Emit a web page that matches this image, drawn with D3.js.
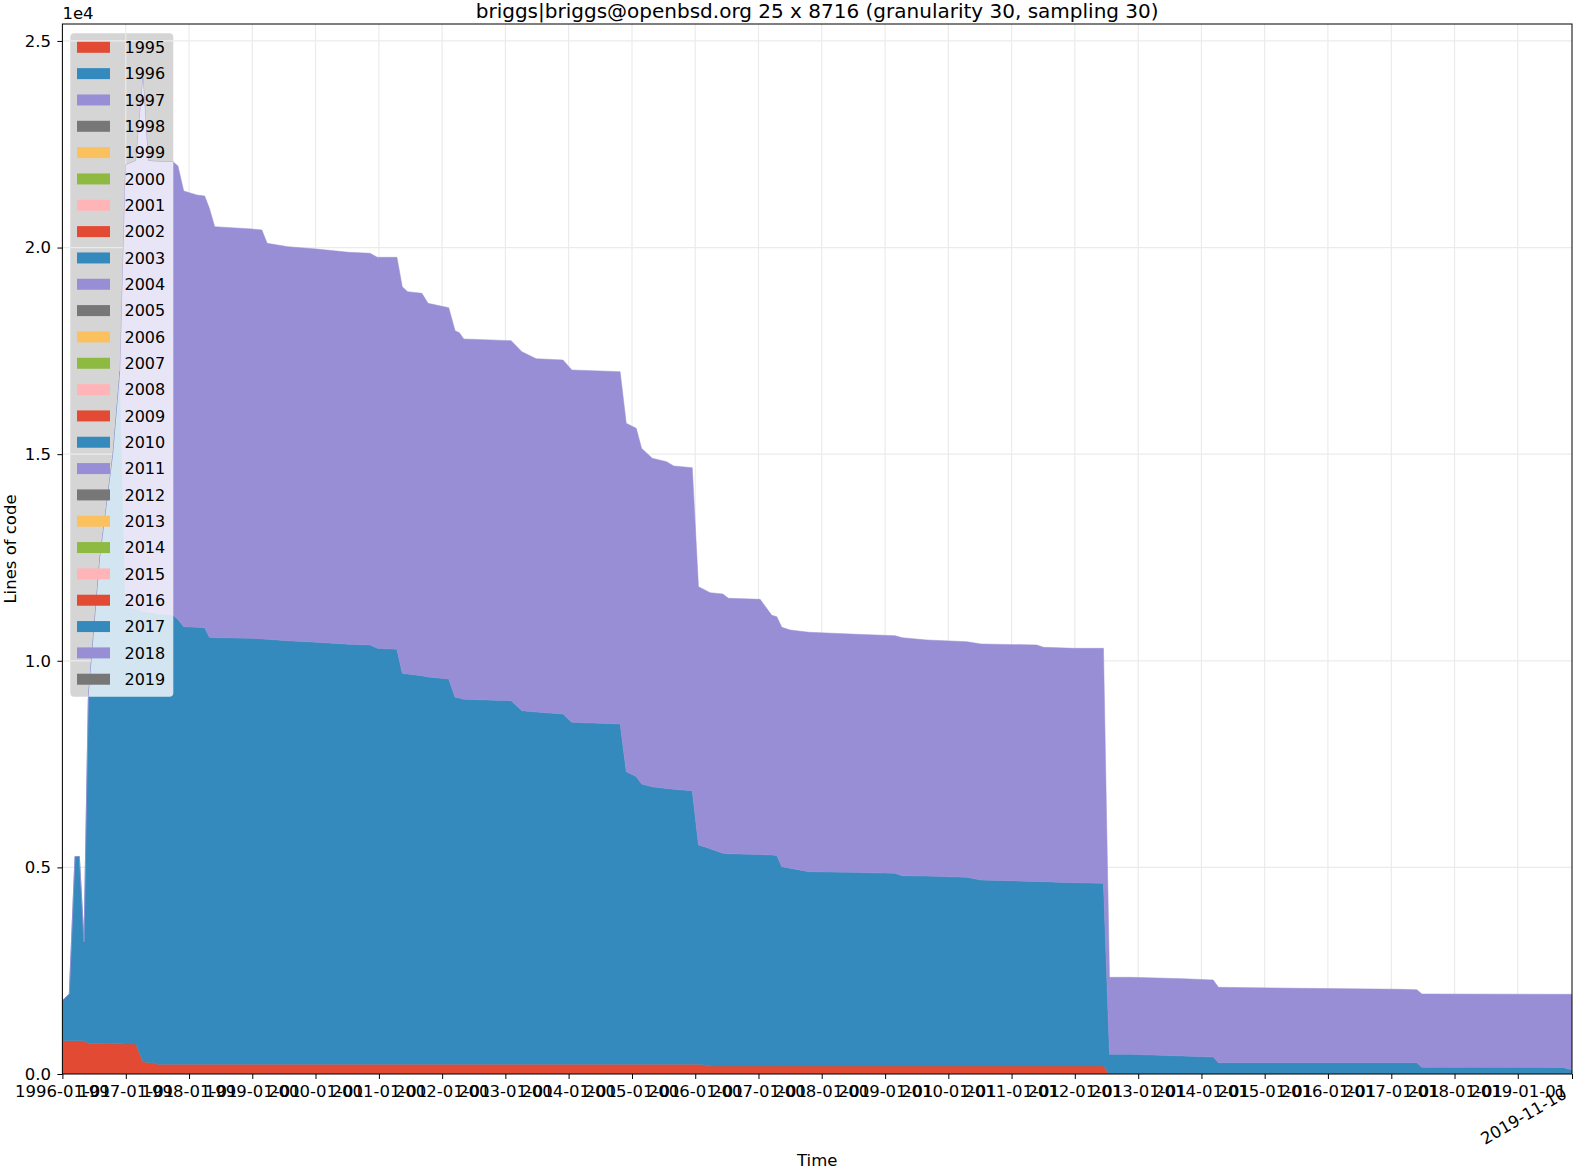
<!DOCTYPE html>
<html>
<head>
<meta charset="utf-8">
<script src="https://cdn.jsdelivr.net/npm/d3@7"></script>
<style>
body { margin: 0; background: #fff; }
text { font-family: "DejaVu Sans", sans-serif; fill: #000; }
</style>
</head>
<body>
<svg id="chart" width="1574" height="1167"></svg>
<script>
// ---- datos ----
const years = ["1995", "1996", "1997", "1998", "1999", "2000", "2001", "2002", "2003", "2004",
    "2005", "2006", "2007", "2008", "2009", "2010", "2011", "2012", "2013", "2014",
    "2015", "2016", "2017", "2018", "2019"];

// fechas de muestreo (anio decimal)
const dates = [1996.000, 1996.109, 1996.199, 1996.267, 1996.341, 1996.409, 1996.594, 1996.800, 1996.910, 1996.997,
    1997.159, 1997.272, 1997.353, 1997.441, 1997.497, 1997.746, 1997.825, 1997.916, 1998.124, 1998.247,
    1998.322, 1998.406, 1998.998, 1999.152, 1999.235, 1999.564, 2000.015, 2000.523, 2000.862, 2000.974,
    2001.285, 2001.369, 2001.454, 2001.680, 2001.777, 2002.104, 2002.205, 2002.273, 2002.341, 2003.092,
    2003.261, 2003.487, 2003.911, 2004.051, 2004.813, 2004.909, 2005.067, 2005.151, 2005.320, 2005.546,
    2005.660, 2005.953, 2006.051, 2006.145, 2006.235, 2006.436, 2006.525, 2007.026, 2007.211, 2007.290,
    2007.369, 2007.500, 2007.797, 2008.448, 2009.158, 2009.270, 2009.660, 2010.293, 2010.519, 2011.399,
    2011.503, 2011.977, 2012.452, 2012.547, 2012.874, 2013.712, 2014.186, 2014.269, 2015.561, 2017.141,
    2017.405, 2017.484, 2019.717, 2019.859];

const lines1995 = [806, 806, 806, 806, 806, 743, 740, 735, 730, 728,
    726, 298, 280, 273, 235, 235, 235, 235, 235, 235,
    235, 235, 235, 235, 235, 235, 235, 235, 235, 235,
    235, 235, 235, 235, 235, 235, 235, 235, 235, 235,
    235, 235, 235, 235, 235, 235, 235, 235, 235, 235,
    235, 235, 235, 215, 194, 194, 194, 194, 194, 194,
    194, 194, 194, 194, 194, 194, 194, 194, 194, 194,
    194, 194, 194, 0, 0, 0, 0, 0, 0, 0,
    0, 0, 0, 0];

const lines1996 = [973, 1130, 4458, 4458, 2388, 8334, 11760, 14265, 16270, 10572,
    10524, 10902, 10900, 10887, 10905, 10873, 10765, 10590, 10575, 10565,
    10333, 10325, 10309, 10295, 10285, 10251, 10215, 10165, 10147, 10067,
    10043, 9462, 9445, 9405, 9375, 9324, 8881, 8865, 8833, 8799,
    8557, 8525, 8477, 8276, 8235, 7081, 6965, 6783, 6715, 6675,
    6655, 6621, 5307, 5285, 5256, 5147, 5136, 5116, 5106, 5096,
    4823, 4786, 4702, 4686, 4663, 4605, 4596, 4566, 4501, 4466,
    4460, 4436, 4421, 477, 477, 436, 411, 273, 273, 273,
    273, 162, 160, 97];

const lines1997 = [0, 0, 0, 0, 0, 0, 0, 0, 0, 10700,
    10850, 12900, 10920, 10930, 10945, 10970, 10974, 10544, 10462, 10448,
    10382, 9945, 9905, 9895, 9583, 9535, 9515, 9485, 9479, 9462,
    9486, 9356, 9252, 9252, 9040, 8986, 8872, 8840, 8719, 8712,
    8688, 8550, 8567, 8526, 8526, 8431, 8426, 8124, 7950, 7908,
    7824, 7816, 6251, 6220, 6198, 6275, 6182, 6177, 5800, 5777,
    5793, 5765, 5794, 5768, 5750, 5760, 5713, 5702, 5711, 5722,
    5672, 5672, 5687, 1863, 1863, 1870, 1864, 1825, 1801, 1777,
    1767, 1774, 1769, 1832];

const tickYears = [1996, 1997, 1998, 1999, 2000, 2001, 2002, 2003, 2004, 2005, 2006, 2007,
    2008, 2009, 2010, 2011, 2012, 2013, 2014, 2015, 2016, 2017, 2018, 2019];
const yTicks = [0, 5000, 10000, 15000, 20000, 25000];
const endDate = "2019-11-10";

const palette = ["#E24A33", "#348ABD", "#988ED5", "#777777", "#FBC15E", "#8EBA42", "#FFB5B8"];
const title = "briggs|briggs@openbsd.org 25 x 8716 (granularity 30, sampling 30)";

// ---- utilidades ----
function toDate(dec) {
    const Y = Math.floor(dec);
    const a = new Date(Y, 0, 1), b = new Date(Y + 1, 0, 1);
    return new Date(+a + (dec - Y) * (b - a));
}

const svg = d3.select("#chart");
const axL = 62.4, axR = 1572, axT = 24, axB = 1074;
const fs = "16.5px";

const x = d3.scaleTime()
    .domain([new Date(1996, 0, 1), d3.timeParse("%Y-%m-%d")(endDate)])
    .range([axL, axR]);
const y = d3.scaleLinear().domain([0, 25410]).range([axB, axT]);

const rows = dates.map((d, i) => ({
    date: toDate(d),
    "1995": lines1995[i],
    "1996": lines1996[i],
    "1997": lines1997[i]
}));
const keys = ["1995", "1996", "1997"];
const series = d3.stack().keys(keys)(rows);
const color = k => palette[years.indexOf(k) % palette.length];

// geometria de la leyenda
const legX = 70.3, legY = 33.3, legW = 103, legH = 663.4;

svg.append("rect").attr("width", 1574).attr("height", 1167).attr("fill", "#fff");

// fondo gris de la leyenda (se ve donde no hay datos)
svg.append("rect")
    .attr("x", legX).attr("y", legY).attr("width", legW).attr("height", legH)
    .attr("rx", 4).attr("fill", "#d5d5d5");

// grid
const grid = svg.append("g").attr("stroke", "#ebebeb").attr("stroke-width", 1.2);
grid.selectAll(".vx").data(tickYears).enter().append("line")
    .attr("x1", d => x(new Date(d, 0, 1))).attr("x2", d => x(new Date(d, 0, 1)))
    .attr("y1", axT).attr("y2", axB);
grid.selectAll(".hy").data(yTicks).enter().append("line")
    .attr("x1", axL).attr("x2", axR)
    .attr("y1", d => y(d)).attr("y2", d => y(d));

// areas
svg.append("clipPath").attr("id", "axclip").append("rect")
    .attr("x", axL).attr("y", axT).attr("width", axR - axL).attr("height", axB - axT);

const area = d3.area()
    .x(d => x(d.data.date))
    .y0(d => y(d[0]))
    .y1(d => y(d[1]));

svg.append("g").attr("clip-path", "url(#axclip)")
    .selectAll("path").data(series).enter().append("path")
    .attr("d", area)
    .attr("fill", d => color(d.key))
    .attr("stroke", d => color(d.key))
    .attr("stroke-width", 0.5);

// copia de las areas para aclarar la leyenda encima de los datos
svg.append("clipPath").attr("id", "dataclip")
    .selectAll("path").data(series).enter().append("path")
    .attr("d", area);

svg.append("rect")
    .attr("x", legX).attr("y", legY).attr("width", legW).attr("height", legH)
    .attr("rx", 4).attr("fill", "#fff").attr("fill-opacity", 0.78)
    .attr("clip-path", "url(#dataclip)");

// marco
svg.append("rect")
    .attr("x", axL).attr("y", axT).attr("width", axR - axL).attr("height", axB - axT)
    .attr("fill", "none").attr("stroke", "#000").attr("stroke-width", 1);

// ejes
const fmt = d3.timeFormat("%Y-%m-%d");
const xAxis = svg.append("g")
    .attr("transform", "translate(0," + axB + ")")
    .call(d3.axisBottom(x)
        .tickValues(tickYears.map(d => new Date(d, 0, 1)).concat([x.domain()[1]]))
        .tickFormat((d, i) => i < tickYears.length ? fmt(d) : "")
        .tickSize(5).tickPadding(6));
xAxis.select(".domain").remove();
xAxis.selectAll("text").style("font-size", fs).style("font-family", "DejaVu Sans");

svg.append("text")
    .attr("transform", "translate(1568,1097) rotate(-30)")
    .attr("text-anchor", "end")
    .style("font-size", fs)
    .text(endDate);

const yAxis = svg.append("g")
    .attr("transform", "translate(" + axL + ",0)")
    .call(d3.axisLeft(y).tickValues(yTicks)
        .tickFormat(d => (d / 1e4).toFixed(1))
        .tickSize(5).tickPadding(6.5));
yAxis.select(".domain").remove();
yAxis.selectAll("text").style("font-size", fs).style("font-family", "DejaVu Sans");

svg.append("text").attr("x", axL).attr("y", 19).style("font-size", fs).text("1e4");

svg.append("text")
    .attr("x", (axL + axR) / 2).attr("y", 17.5)
    .attr("text-anchor", "middle").style("font-size", "20px")
    .text(title);

svg.append("text")
    .attr("x", (axL + axR) / 2).attr("y", 1165.5)
    .attr("text-anchor", "middle").style("font-size", fs)
    .text("Time");

svg.append("text")
    .attr("transform", "translate(16," + (axT + axB) / 2 + ") rotate(-90)")
    .attr("text-anchor", "middle").style("font-size", fs)
    .text("Lines of code");

// leyenda
const leg = svg.append("g");
years.forEach((yr, i) => {
    const cy = 47.3 + i * 26.33;
    leg.append("rect")
        .attr("x", 77).attr("y", cy - 5.5).attr("width", 33).attr("height", 11)
        .attr("fill", palette[i % palette.length]);
    leg.append("text")
        .attr("x", 124.5).attr("y", cy + 5.7)
        .style("font-size", "16px")
        .text(yr);
});
</script>
</body>
</html>
